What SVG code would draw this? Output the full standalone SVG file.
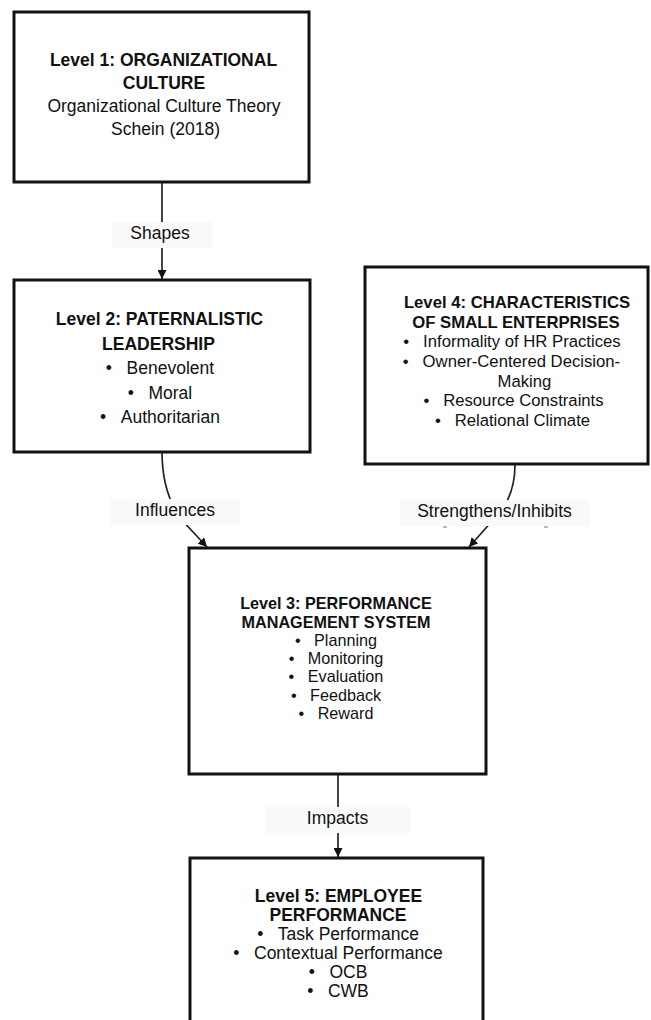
<svg xmlns="http://www.w3.org/2000/svg" width="651" height="1020" viewBox="0 0 651 1020">
<style>
  .box { fill: #ffffff; stroke: #111111; stroke-width: 3; }
  .edge { fill: none; stroke: #222222; stroke-width: 1.7; }
  .lblbg { fill: #f9f9f9; }
  text { font-family: "Liberation Sans", Arial, sans-serif; fill: #111111; text-anchor: middle; }
  .b { font-weight: bold; }
  .f17 { font-size: 17.5px; }
  .f16 { font-size: 16.2px; }
  .f165 { font-size: 16.7px; }
</style>
<defs>
  <marker id="arrow" viewBox="0 0 10 10" refX="10" refY="5" markerUnits="userSpaceOnUse" markerWidth="9" markerHeight="9" orient="auto">
    <path d="M0,0 L10,5 L0,10 Z" fill="#111111"/>
  </marker>
</defs>
<rect width="651" height="1020" fill="#ffffff"/>

<g id="connectors">
  <g id="edge-shapes">
    <line class="edge" x1="162" y1="182" x2="162" y2="279" marker-end="url(#arrow)"/>
    <rect class="lblbg" x="112" y="222" width="100" height="26"/>
    <text class="f17" x="160" y="239">Shapes</text>
  </g>
  <g id="edge-influences">
    <path class="edge" d="M162,452 C162,480 168,500 180,518 L207,547" marker-end="url(#arrow)"/>
    <rect class="lblbg" x="110" y="499" width="130" height="26"/>
    <text class="f17" x="175" y="516">Influences</text>
  </g>
  <g id="edge-strengthens">
    <path class="edge" d="M515,465 C515,485 510,498 502,510 L469,547" marker-end="url(#arrow)"/>
    <rect class="lblbg" x="400" y="500" width="190" height="26"/>
    <text class="f17" x="494.5" y="517">Strengthens/Inhibits</text>
    <line x1="443" y1="527" x2="447" y2="527" stroke="#777" stroke-width="1"/>
    <line x1="544" y1="527" x2="548" y2="527" stroke="#777" stroke-width="1"/>
  </g>
  <g id="edge-impacts">
    <line class="edge" x1="338" y1="774" x2="338" y2="857" marker-end="url(#arrow)"/>
    <rect class="lblbg" x="265" y="807" width="146" height="26"/>
    <text class="f17" x="337.5" y="824">Impacts</text>
  </g>
</g>

<g id="level1">
  <rect class="box" x="14" y="12" width="295" height="170"/>
  <text class="f17 b" x="163.5" y="65.5">Level 1: ORGANIZATIONAL</text>
  <text class="f17 b" x="164" y="88.5">CULTURE</text>
  <text class="f17" x="164" y="111.5">Organizational Culture Theory</text>
  <text class="f17" x="165.5" y="135">Schein (2018)</text>
</g>

<g id="level2">
  <rect class="box" x="14" y="280" width="296" height="172"/>
  <text class="f17 b" x="159.5" y="325">Level 2: PATERNALISTIC</text>
  <text class="f17 b" x="158.5" y="349.5">LEADERSHIP</text>
  <text class="f17" x="160" y="374">•&#160;&#160;&#160;Benevolent</text>
  <text class="f17" x="160" y="398.5">•&#160;&#160;&#160;Moral</text>
  <text class="f17" x="160" y="423">•&#160;&#160;&#160;Authoritarian</text>
</g>

<g id="level4">
  <rect class="box" x="365" y="267" width="283" height="197"/>
  <text class="f165 b" x="517" y="308">Level 4: CHARACTERISTICS</text>
  <text class="f165 b" x="516" y="327.5">OF SMALL ENTERPRISES</text>
  <text class="f165" x="512" y="347">•&#160;&#160;&#160;Informality of HR Practices</text>
  <text class="f165" x="511.5" y="366.5">•&#160;&#160;&#160;Owner-Centered Decision-</text>
  <text class="f165" x="524.5" y="386.5">Making</text>
  <text class="f165" x="513.5" y="406">•&#160;&#160;&#160;Resource Constraints</text>
  <text class="f165" x="512.5" y="426">•&#160;&#160;&#160;Relational Climate</text>
</g>

<g id="level3">
  <rect class="box" x="189" y="548" width="297" height="226"/>
  <text class="f16 b" x="336" y="609">Level 3: PERFORMANCE</text>
  <text class="f16 b" x="336" y="627.5">MANAGEMENT SYSTEM</text>
  <text class="f16" x="336" y="645.5">•&#160;&#160;&#160;Planning</text>
  <text class="f16" x="336" y="664">•&#160;&#160;&#160;Monitoring</text>
  <text class="f16" x="336" y="682">•&#160;&#160;&#160;Evaluation</text>
  <text class="f16" x="336" y="700.5">•&#160;&#160;&#160;Feedback</text>
  <text class="f16" x="336" y="718.5">•&#160;&#160;&#160;Reward</text>
</g>

<g id="level5">
  <rect class="box" x="190" y="858" width="293" height="175"/>
  <text class="f17 b" x="338.5" y="901.5">Level 5: EMPLOYEE</text>
  <text class="f17 b" x="338" y="920.5">PERFORMANCE</text>
  <text class="f17" x="338" y="940">•&#160;&#160;&#160;Task Performance</text>
  <text class="f17" x="338" y="959">•&#160;&#160;&#160;Contextual Performance</text>
  <text class="f17" x="338" y="978">•&#160;&#160;&#160;OCB</text>
  <text class="f17" x="338" y="997">•&#160;&#160;&#160;CWB</text>
</g>
</svg>
